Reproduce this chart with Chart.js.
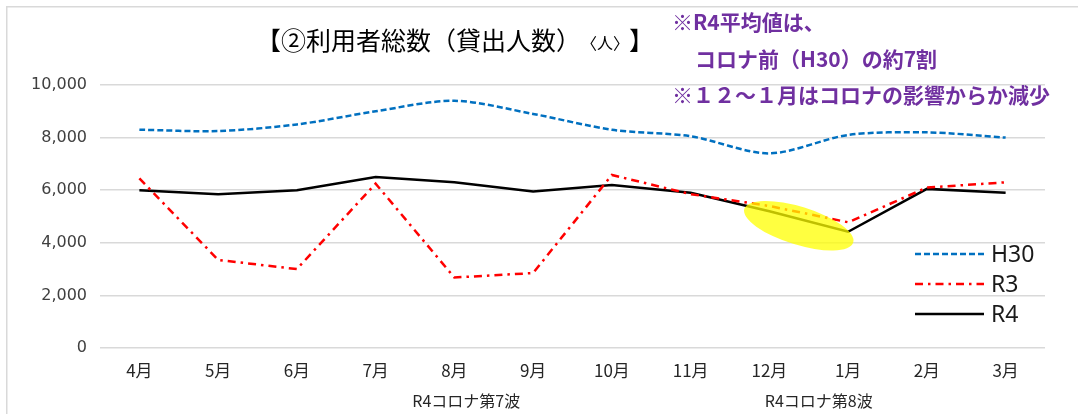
<!DOCTYPE html>
<html><head><meta charset="utf-8">
<script src="https://cdn.jsdelivr.net/npm/chart.js@4/dist/chart.umd.min.js"></script>
<style>html,body{margin:0;padding:0;background:#fff;}#wrap{width:1078px;height:414px;position:relative;}</style>
</head><body><div id="wrap"><canvas id="c" width="1078" height="414"></canvas></div>
<script>
const months = ['4月','5月','6月','7月','8月','9月','10月','11月','12月','1月','2月','3月'];
const h30 = [8300, 8250, 8500, 9000, 9400, 8900, 8300, 8050, 7400, 8100, 8200, 8000];
const r3  = [6450, 3350, 3000, 6250, 2680, 2850, 6580, 5850, 5400, 4780, 6100, 6300];
const r4  = [6000, 5850, 6000, 6500, 6300, 5950, 6200, 5900, 5200, 4420, 6050, 5900];
const seriesNames = ['H30', 'R3', 'R4'];
const yTickValues = [0, 2000, 4000, 6000, 8000, 10000];
const waveLabels = ['R4コロナ第7波', 'R4コロナ第8波'];
const titleMain = '【②利用者総数（貸出人数）';
const titleUnit = '〈人〉';
const titleEnd = '】';
const noteLines = ['※R4平均値は、', 'コロナ前（H30）の約7割', '※１２～１月はコロナの影響からか減少'];

const CJK = '"Noto Sans CJK JP", "Noto Sans", sans-serif';

const decor = {
  id: 'decor',
  beforeDraw(chart) {
    const ctx = chart.ctx;
    ctx.save();
    ctx.fillStyle = '#fff';
    ctx.fillRect(0, 0, chart.width, chart.height);
    ctx.strokeStyle = '#d9d9d9';
    ctx.lineWidth = 1.5;
    ctx.strokeRect(6.75, 6.75, chart.width + 20, chart.height + 20);
    ctx.restore();
  },
  afterDatasetsDraw(chart) {
    const ctx = chart.ctx;
    const xs = chart.scales.x, ys = chart.scales.y;
    const cx = (xs.getPixelForValue(8) + xs.getPixelForValue(9)) / 2 - 10;
    const cy = ys.getPixelForValue(4650);
    ctx.save();
    ctx.fillStyle = 'rgba(255,255,0,0.75)';
    ctx.beginPath();
    ctx.ellipse(cx, cy, 57, 19, 0.3, 0, Math.PI * 2);
    ctx.fill();
    ctx.restore();
  },
  afterDraw(chart) {
    const ctx = chart.ctx;
    const xs = chart.scales.x;
    ctx.save();
    ctx.fillStyle = '#000';
    ctx.textBaseline = 'alphabetic';
    ctx.textAlign = 'left';
    let x = 256;
    const by = 50;
    ctx.font = '25px ' + CJK;
    ctx.fillText(titleMain, x, by);
    x += ctx.measureText(titleMain).width;
    ctx.font = '16px ' + CJK;
    ctx.fillText(titleUnit, x, by - 1);
    x += ctx.measureText(titleUnit).width;
    ctx.font = '25px ' + CJK;
    ctx.fillText(titleEnd, x, by);

    ctx.fillStyle = '#7030A0';
    ctx.font = 'bold 21px ' + CJK;
    ctx.textBaseline = 'middle';
    ctx.fillText(noteLines[0], 672, 22);
    ctx.fillText(noteLines[1], 695, 59);
    ctx.fillText(noteLines[2], 672, 95);

    ctx.fillStyle = '#262626';
    ctx.font = '16px ' + CJK;
    ctx.textAlign = 'center';
    const p = i => xs.getPixelForValue(i);
    ctx.fillText(waveLabels[0], p(4) + 0.15 * (p(5) - p(4)), 401);
    ctx.fillText(waveLabels[1], (p(8) + p(9)) / 2 + 10, 401);

    ctx.textAlign = 'left';
    ctx.font = '23px "Noto Sans", sans-serif';
    const ly = [254, 284, 314];
    chart.data.datasets.forEach((ds, i) => {
      ctx.save();
      ctx.strokeStyle = ds.borderColor;
      ctx.lineWidth = ds.borderWidth;
      ctx.setLineDash(ds.borderDash || []);
      ctx.beginPath();
      ctx.moveTo(915, ly[i]);
      ctx.lineTo(984, ly[i]);
      ctx.stroke();
      ctx.restore();
      ctx.fillStyle = '#1a1a1a';
      ctx.fillText(ds.label, 991, ly[i] + 1);
    });
    ctx.restore();
  }
};

new Chart(document.getElementById('c'), {
  type: 'line',
  data: {
    labels: months,
    datasets: [
      { label: seriesNames[0], data: h30, borderColor: '#0070C0', borderWidth: 2.5, borderDash: [6, 3], tension: 0.3, pointRadius: 0, fill: false },
      { label: seriesNames[1], data: r3, borderColor: '#FF0000', borderWidth: 2.5, borderDash: [8, 5, 2.5, 5], tension: 0, pointRadius: 0, fill: false },
      { label: seriesNames[2], data: r4, borderColor: '#000000', borderWidth: 2.5, tension: 0, pointRadius: 0, fill: false }
    ]
  },
  options: {
    responsive: false,
    devicePixelRatio: 1,
    animation: false,
    layout: { padding: { top: 85, right: 33, left: 0, bottom: 0 } },
    plugins: { legend: { display: false }, tooltip: { enabled: false }, title: { display: false } },
    scales: {
      x: {
        offset: true,
        grid: { display: false, drawTicks: false },
        border: { display: false },
        ticks: { color: '#262626', font: { family: CJK, size: 17 }, padding: 12, maxRotation: 0, autoSkip: false },
        afterFit(s) { s.height = 66; }
      },
      y: {
        min: 0, max: 10000,
        afterBuildTicks(s) { s.ticks = yTickValues.map(v => ({ value: v })); },
        grid: { color: '#d9d9d9', lineWidth: 1.5, drawTicks: false },
        border: { display: false },
        ticks: { color: '#404040', font: { family: 'DejaVu Sans', size: 16 }, padding: 13,
          callback: v => v.toLocaleString('en-US') },
        afterFit(s) { s.width = 100; }
      }
    }
  },
  plugins: [decor]
});
</script>
</body></html>
